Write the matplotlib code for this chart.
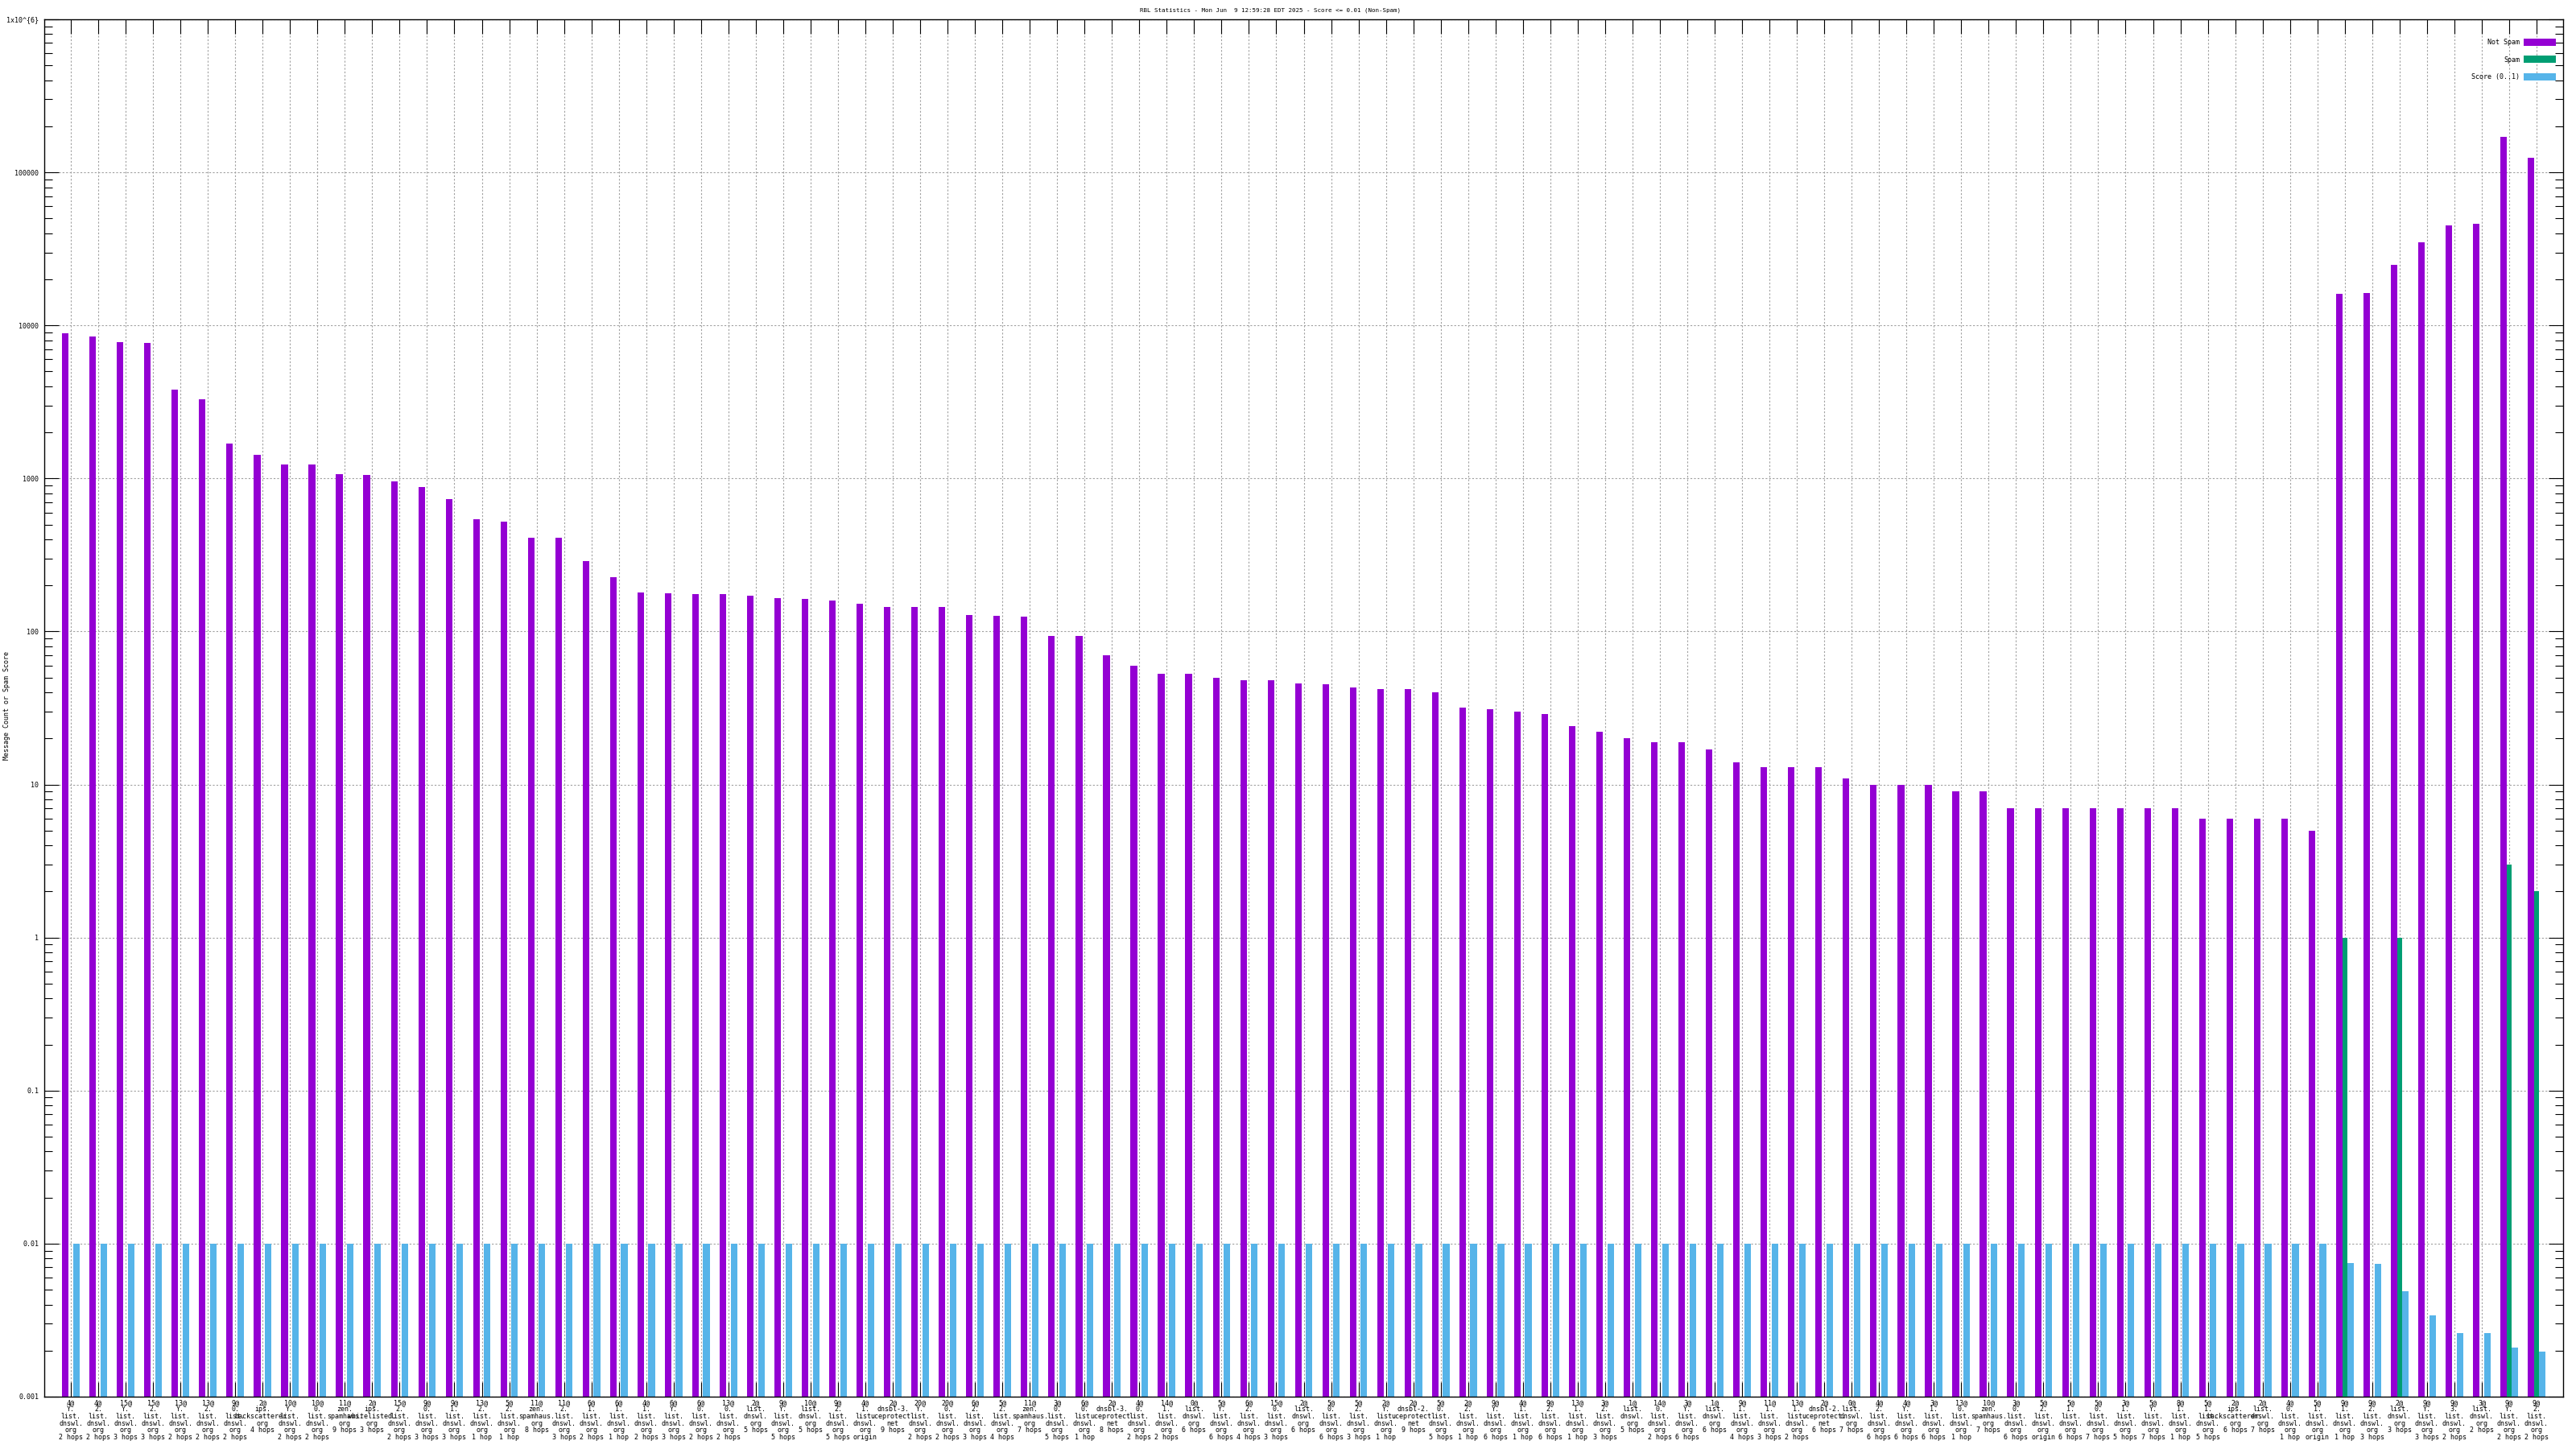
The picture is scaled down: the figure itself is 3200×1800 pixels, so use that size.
import numpy as np
import matplotlib
matplotlib.use('Agg')
from matplotlib import pyplot as plt
from matplotlib.ticker import FixedLocator, FixedFormatter, LogLocator, NullFormatter

plt.rcParams['font.family'] = ['DejaVu Sans Mono']
plt.rcParams['font.size'] = 6

title = 'RBL Statistics - Mon Jun  9 12:59:28 EDT 2025 - Score <= 0.01 (Non-Spam)'

# rbl label parts: "N@", host, hops
label_n = [4, 4, 15, 15, 13, 13, 9, 2, 10, 10, 11, 2, 15, 9, 9, 13, 5, 11, 11, 6,
           6, 4, 6, 6, 13, 2, 9, 10, 9, 4, 2, 20, 20, 6, 5, 11, 3, 6, 2, 4,
           14, 0, 5, 6, 15, 2, 5, 5, 2, 2, 5, 2, 9, 4, 9, 13, 3, 1, 14, 3,
           1, 9, 11, 13, 2, 0, 4, 4, 3, 13, 10, 3, 5, 5, 5, 3, 5, 8, 5, 2,
           2, 4, 5, 9, 9, 2, 9, 9, 3, 9, 9]
label_host = ['Y.list.dnswl.org', '2.list.dnswl.org', 'Y.list.dnswl.org', '2.list.dnswl.org',
              'Y.list.dnswl.org', '2.list.dnswl.org', '0.list.dnswl.org', 'ips.backscatterer.org',
              'Y.list.dnswl.org', '0.list.dnswl.org', 'zen.spamhaus.org', 'ips.whitelisted.org',
              '2.list.dnswl.org', '0.list.dnswl.org', '1.list.dnswl.org', '2.list.dnswl.org',
              '2.list.dnswl.org', 'zen.spamhaus.org', '2.list.dnswl.org', '1.list.dnswl.org',
              '1.list.dnswl.org', '1.list.dnswl.org', 'Y.list.dnswl.org', '0.list.dnswl.org',
              '0.list.dnswl.org', 'list.dnswl.org', 'Y.list.dnswl.org', 'list.dnswl.org',
              '2.list.dnswl.org', '1.list.dnswl.org', 'dnsbl-3.uceprotect.net', 'Y.list.dnswl.org',
              '0.list.dnswl.org', '2.list.dnswl.org', '2.list.dnswl.org', 'zen.spamhaus.org',
              '0.list.dnswl.org', '0.list.dnswl.org', 'dnsbl-3.uceprotect.net', '0.list.dnswl.org',
              '1.list.dnswl.org', 'list.dnswl.org', 'Y.list.dnswl.org', '2.list.dnswl.org',
              '0.list.dnswl.org', 'list.dnswl.org', '0.list.dnswl.org', '2.list.dnswl.org',
              'Y.list.dnswl.org', 'dnsbl-2.uceprotect.net', '0.list.dnswl.org', '2.list.dnswl.org',
              'Y.list.dnswl.org', '1.list.dnswl.org', '2.list.dnswl.org', '1.list.dnswl.org',
              '2.list.dnswl.org', 'list.dnswl.org', '0.list.dnswl.org', 'Y.list.dnswl.org',
              'list.dnswl.org', '1.list.dnswl.org', '1.list.dnswl.org', '1.list.dnswl.org',
              'dnsbl-2.uceprotect.net', 'list.dnswl.org', '2.list.dnswl.org', 'Y.list.dnswl.org',
              '1.list.dnswl.org', '0.list.dnswl.org', 'zen.spamhaus.org', '0.list.dnswl.org',
              '2.list.dnswl.org', '1.list.dnswl.org', '0.list.dnswl.org', '1.list.dnswl.org',
              'Y.list.dnswl.org', '1.list.dnswl.org', '1.list.dnswl.org', 'ips.backscatterer.org',
              'list.dnswl.org', '0.list.dnswl.org', '1.list.dnswl.org', '1.list.dnswl.org',
              '2.list.dnswl.org', 'list.dnswl.org', 'Y.list.dnswl.org', '3.list.dnswl.org',
              'list.dnswl.org', 'Y.list.dnswl.org', '2.list.dnswl.org']
label_hops = ['2 hops', '2 hops', '3 hops', '3 hops', '2 hops', '2 hops', '2 hops', '4 hops',
              '2 hops', '2 hops', '9 hops', '3 hops', '2 hops', '3 hops', '3 hops', '1 hop',
              '1 hop', '8 hops', '3 hops', '2 hops', '1 hop', '2 hops', '3 hops', '2 hops',
              '2 hops', '5 hops', '5 hops', '5 hops', '5 hops', 'origin', '9 hops', '2 hops',
              '2 hops', '3 hops', '4 hops', '7 hops', '5 hops', '1 hop', '8 hops', '2 hops',
              '2 hops', '6 hops', '6 hops', '4 hops', '3 hops', '6 hops', '6 hops', '3 hops',
              '1 hop', '9 hops', '5 hops', '1 hop', '6 hops', '1 hop', '6 hops', '1 hop',
              '3 hops', '5 hops', '2 hops', '6 hops', '6 hops', '4 hops', '3 hops', '2 hops',
              '6 hops', '7 hops', '6 hops', '6 hops', '6 hops', '1 hop', '7 hops', '6 hops',
              'origin', '6 hops', '7 hops', '5 hops', '7 hops', '1 hop', '5 hops', '6 hops',
              '7 hops', '1 hop', 'origin', '1 hop', '3 hops', '3 hops', '3 hops', '2 hops',
              '2 hops', '2 hops', '2 hops']

not_spam = [8900, 8500, 7800, 7700, 3800, 3300, 1700, 1430, 1230, 1230,
            1070, 1060, 960, 880, 730, 540, 520, 410, 410, 290,
            225, 180, 178, 175, 175, 172, 165, 163, 160, 152,
            145, 145, 145, 128, 127, 125, 93, 93, 70, 60,
            53, 53, 50, 48, 48, 46, 45, 43, 42, 42,
            40, 32, 31, 30, 29, 24, 22, 20, 19, 19,
            17, 14, 13, 13, 13, 11, 10, 10, 10, 9,
            9, 7, 7, 7, 7, 7, 7, 7, 6, 6,
            6, 6, 5, 16000, 16200, 25000, 35000, 45000, 46000, 170000,
            125000]
spam = [0] * 83 + [1, 0, 1, 0, 0, 0, 3, 2]
score = [0.01] * 83 + [0.0075, 0.0074, 0.0049, 0.0034, 0.0026, 0.0026, 0.0021, 0.00198]

ytick_vals = [0.001, 0.01, 0.1, 1, 10, 100, 1000, 10000, 100000, 1000000]
ytick_text = ['0.001', '0.01', '0.1', '1', '10', '100', '1000', '10000', '100000', '1x10^{6}']

def make_label(n, host, hops):
    parts = host.split('.')
    lines = [str(n) + '@'] + [p + '.' for p in parts[:-1]] + [parts[-1], hops]
    return '\n'.join(lines)

labels = [make_label(n, h, p) for n, h, p in zip(label_n, label_host, label_hops)]
x = np.arange(1, len(labels) + 1)

fig = plt.figure(figsize=(32, 18), dpi=100)
ax = fig.add_axes([55 / 3200, 1 - 1735 / 1800, (3184 - 55) / 3200, (1735 - 24) / 1800])
ax.set_axisbelow(True)

ax.bar(x - 0.2, not_spam, width=0.24, color='#9400d3', label='Not Spam', zorder=2)
ax.bar(x + 0.2, score, width=0.24, color='#56b4e9', label='Score (0..1)', zorder=2)
ax.bar(x, spam, width=0.19, color='#009e73', label='Spam', zorder=3)

ax.set_yscale('log')
ax.set_ylim(0.001, 1000000)
ax.set_xlim(0.03, 91.97)

ax.yaxis.set_major_locator(FixedLocator(ytick_vals))
ax.yaxis.set_major_formatter(FixedFormatter(ytick_text))
ax.yaxis.set_minor_locator(LogLocator(base=10, subs=np.arange(2, 10), numticks=20))
ax.yaxis.set_minor_formatter(NullFormatter())
ax.set_xticks(x)
ax.set_xticklabels(labels, linespacing=0.95)

ax.tick_params(axis='both', which='major', direction='in', length=13, width=0.8,
               top=True, right=True, labelsize=6)
ax.tick_params(axis='y', which='minor', direction='in', length=7, width=0.8, right=True)
ax.tick_params(axis='x', which='major', pad=2)
ax.tick_params(axis='y', which='major', pad=5)
for s in ax.spines.values():
    s.set_linewidth(1.0)

ax.grid(True, which='major', color='#a0a0a0', linestyle=(0, (2, 2)), linewidth=0.8)

# y label sits near the left edge of the figure
fig.text(8.5 / 3200, 1 - 877 / 1800, 'Message Count or Spam Score', rotation=90,
         ha='center', va='center', fontsize=6)

# legend order as in reference
h, l = ax.get_legend_handles_labels()
order = [0, 2, 1]
ax.legend([h[i] for i in order], [l[i] for i in order], loc='upper right',
          bbox_to_anchor=(0.997, 0.986), frameon=False, markerfirst=False,
          handlelength=4.7, handleheight=1.3, labelspacing=1.45, handletextpad=0.6,
          borderaxespad=0, borderpad=0, fontsize=6)

fig.text(1578 / 3200, 1 - 13 / 1800, title, ha='center', va='center', fontsize=5.4)

fig.savefig('out.png', dpi=100)
